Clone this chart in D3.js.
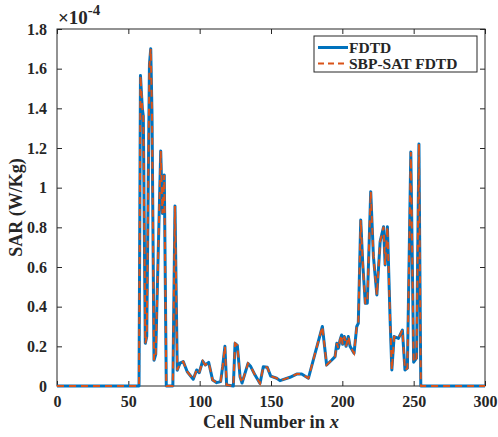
<!DOCTYPE html>
<html><head><meta charset="utf-8">
<script src="https://cdn.jsdelivr.net/npm/d3@7/dist/d3.min.js"></script>
<style>body{margin:0;background:#fff}svg{display:block}</style>
</head><body>
<script>
// Data (SAR in units of 1e-4 W/Kg)
const cells = [0,57.5,58.5,59.8,60.5,61.9,62.9,64.8,65.7,66.6,68.0,69.2,72.7,73.9,75.2,76.6,81.2,82.7,84.3,86.2,88.5,91.3,95.5,97.9,99.7,102.1,103.9,106.3,109.1,111.9,114.7,116.1,117.7,118.9,123.6,124.8,126.4,128.3,129.7,133.9,135.8,138.8,142.3,144.6,147.4,149.8,154.0,156.3,163.3,168.0,171.5,176.2,180.9,186.0,189.0,192.6,194.9,196.1,197.2,198.4,199.5,200.2,201.4,202.6,204.2,205.4,208.2,210.1,211.2,212.9,214.3,216.1,217.5,219.9,221.8,224.2,226.5,228.9,230.0,231.6,233.5,234.7,236.3,239.3,242.1,243.9,245.6,248.0,250.0,252.0,253.7,255.0,300];
const fdtd = [0,0,1.565,1.40,1.36,0.215,0.25,1.62,1.70,1.37,0.13,0.16,1.185,0.87,1.064,0,0,0.907,0.08,0.115,0.123,0.072,0.034,0.081,0.067,0.126,0.106,0.119,0.03,0.017,0.022,0.097,0.2,0.005,0,0.215,0.205,0.047,0.015,0.114,0.098,0.055,0.013,0.097,0.094,0.05,0.039,0.027,0.044,0.06,0.06,0.039,0.165,0.30,0.106,0.131,0.148,0.215,0.19,0.232,0.257,0.21,0.25,0.2,0.25,0.2,0.165,0.30,0.316,0.837,0.619,0.417,0.417,0.98,0.652,0.459,0.728,0.803,0.61,0.803,0.333,0.081,0.249,0.24,0.282,0.081,0.09,1.18,0.12,0.14,1.22,0,0];
const sbpsat = [0,0,1.565,1.40,1.36,0.215,0.25,1.62,1.70,1.37,0.13,0.16,1.185,0.87,1.064,0,0,0.907,0.08,0.115,0.123,0.072,0.034,0.081,0.067,0.126,0.106,0.119,0.03,0.017,0.022,0.097,0.2,0.005,0,0.215,0.205,0.047,0.015,0.114,0.098,0.055,0.013,0.097,0.094,0.05,0.039,0.027,0.044,0.06,0.06,0.039,0.165,0.30,0.106,0.131,0.148,0.215,0.19,0.232,0.257,0.21,0.25,0.2,0.25,0.2,0.165,0.30,0.316,0.837,0.619,0.417,0.417,0.98,0.652,0.459,0.728,0.803,0.61,0.803,0.333,0.081,0.249,0.24,0.282,0.081,0.09,1.18,0.12,0.14,1.22,0,0];
const xTicks = [0,50,100,150,200,250,300];
const yTicks = [0,0.2,0.4,0.6,0.8,1,1.2,1.4,1.6,1.8];
const seriesNames = ["FDTD","SBP-SAT FDTD"];

const W = 498, H = 437;
const m = {left:57, right:485, top:29, bottom:386};
const ink = "#262626";
const font = "'Liberation Serif','Times New Roman',serif";

const svg = d3.select("body").append("svg").attr("width",W).attr("height",H)
  .style("font-family",font);

const x = d3.scaleLinear().domain([0,300]).range([m.left,m.right]);
const y = d3.scaleLinear().domain([0,1.8]).range([m.bottom,m.top]);

const fmtY = d => (d===0||d===1) ? String(d) : d.toFixed(1);

// axes (inward ticks)
const gx = svg.append("g").attr("transform",`translate(0,${m.bottom})`)
  .call(d3.axisBottom(x).tickValues(xTicks).tickSizeInner(-5).tickSizeOuter(0).tickPadding(10));
const gxt = svg.append("g").attr("transform",`translate(0,${m.top})`)
  .call(d3.axisTop(x).tickValues(xTicks).tickSizeInner(-5).tickSizeOuter(0).tickFormat(""));
const gy = svg.append("g").attr("transform",`translate(${m.left},0)`)
  .call(d3.axisLeft(y).tickValues(yTicks).tickFormat(fmtY).tickSizeInner(-5).tickSizeOuter(0).tickPadding(10));
const gyr = svg.append("g").attr("transform",`translate(${m.right},0)`)
  .call(d3.axisRight(y).tickValues(yTicks).tickSizeInner(-5).tickSizeOuter(0).tickFormat(""));
[gx,gxt,gy,gyr].forEach(g=>{
  g.selectAll("path").remove();
  g.selectAll("line").attr("stroke",ink).attr("stroke-width",1);
  g.selectAll("text").attr("fill",ink).style("font-family",font)
   .style("font-size","16px").style("font-weight","bold");
});
gx.selectAll("text").attr("dy","0.71em");

// box
svg.append("rect").attr("x",m.left).attr("y",m.top)
  .attr("width",m.right-m.left).attr("height",m.bottom-m.top)
  .attr("fill","none").attr("stroke",ink).attr("stroke-width",1);

// lines
const line = d3.line().x((d,i)=>x(cells[i])).y(d=>y(d));
svg.append("path").datum(fdtd).attr("d",line).attr("fill","none")
  .attr("stroke","#0072BD").attr("stroke-width",3).attr("stroke-linejoin","round");
svg.append("path").datum(sbpsat).attr("d",line).attr("fill","none")
  .attr("stroke","#D95319").attr("stroke-width",2).attr("stroke-dasharray","7,5");

// axis labels
const xl = svg.append("text").attr("x",(m.left+m.right)/2).attr("y",428)
  .attr("text-anchor","middle").attr("fill",ink)
  .style("font-size","18.5px").style("font-weight","bold");
xl.append("tspan").text("Cell Number in ");
xl.append("tspan").attr("font-style","italic").text("x");

svg.append("text").attr("transform",`translate(22,${(m.top+m.bottom)/2}) rotate(-90)`)
  .attr("text-anchor","middle").attr("fill",ink)
  .style("font-size","18px").style("font-weight","bold").text("SAR (W/Kg)");

// exponent
const ex = svg.append("text").attr("x",58).attr("y",24).attr("fill",ink)
  .style("font-family",font).style("font-size","19px").style("font-weight","bold");
ex.append("tspan").text("×10");
ex.append("tspan").attr("dy",-9).style("font-size","15px").text("-4");

// legend
const lg = svg.append("g");
lg.append("rect").attr("x",314).attr("y",36).attr("width",163).attr("height",36)
  .attr("fill","#fff").attr("stroke",ink).attr("stroke-width",1);
const ls = [{c:"#0072BD",w:3,da:null},{c:"#D95319",w:2,da:"6,4"}];
seriesNames.forEach((n,i)=>{
  const yy = 47.5 + i*16;
  lg.append("line").attr("x1",318).attr("x2",348).attr("y1",yy).attr("y2",yy)
    .attr("stroke",ls[i].c).attr("stroke-width",ls[i].w).attr("stroke-dasharray",ls[i].da);
  lg.append("text").attr("x",349).attr("y",yy+5).attr("fill",ink)
    .style("font-size","15.5px").style("font-weight","bold").text(n);
});
</script>
</body></html>
